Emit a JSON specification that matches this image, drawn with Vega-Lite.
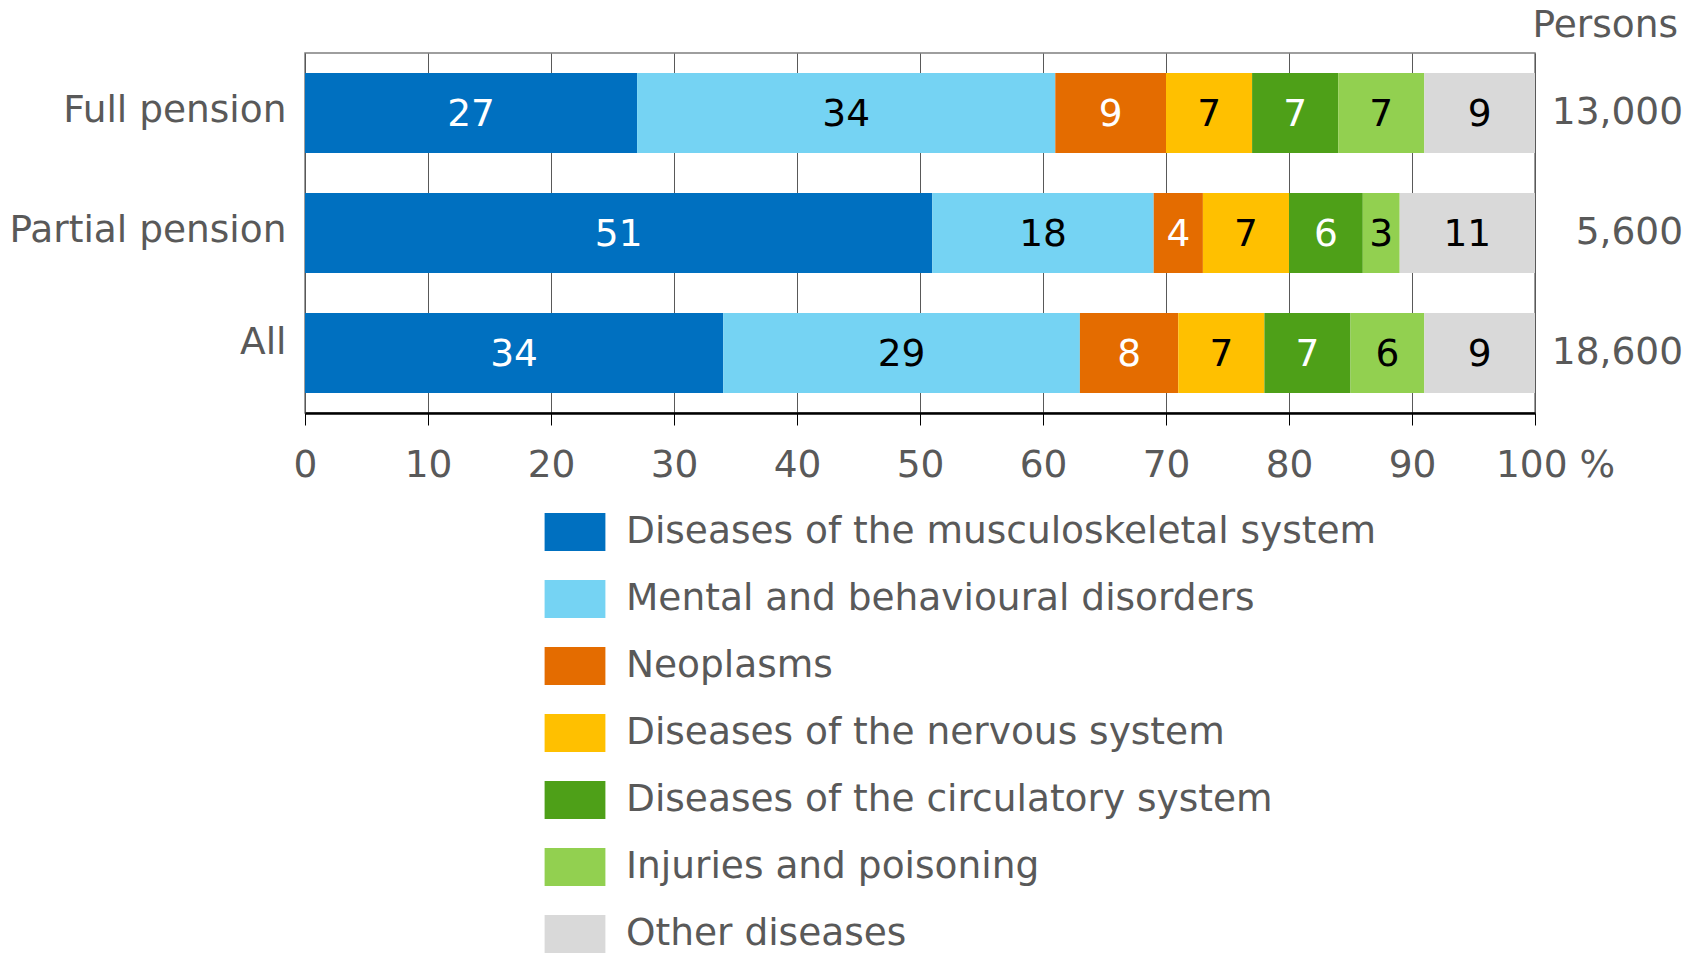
{
  "$schema": "https://vega.github.io/schema/vega-lite/v6.json",
  "width": 1230,
  "height": 360,
  "autosize": {"type": "none"},
  "padding": {"left": 305, "top": 53, "right": 163, "bottom": 544},
  "background": "white",
  "title": {
    "text": "Persons",
    "anchor": "end",
    "frame": "group",
    "dx": 143,
    "offset": -21,
    "baseline": "alphabetic",
    "fontSize": 37.5,
    "fontWeight": "normal",
    "font": "DejaVu Sans",
    "color": "#595959"
  },
  "config": {
    "font": "DejaVu Sans",
    "view": {"stroke": "#7F7F7F", "strokeWidth": 1.5}
  },
  "datasets": {
    "shares": [
      {"group": "Full pension", "cause": "Diseases of the musculoskeletal system", "k": 1, "v": 27},
      {"group": "Full pension", "cause": "Mental and behavioural disorders", "k": 2, "v": 34},
      {"group": "Full pension", "cause": "Neoplasms", "k": 3, "v": 9},
      {"group": "Full pension", "cause": "Diseases of the nervous system", "k": 4, "v": 7},
      {"group": "Full pension", "cause": "Diseases of the circulatory system", "k": 5, "v": 7},
      {"group": "Full pension", "cause": "Injuries and poisoning", "k": 6, "v": 7},
      {"group": "Full pension", "cause": "Other diseases", "k": 7, "v": 9},
      {"group": "Partial pension", "cause": "Diseases of the musculoskeletal system", "k": 1, "v": 51},
      {"group": "Partial pension", "cause": "Mental and behavioural disorders", "k": 2, "v": 18},
      {"group": "Partial pension", "cause": "Neoplasms", "k": 3, "v": 4},
      {"group": "Partial pension", "cause": "Diseases of the nervous system", "k": 4, "v": 7},
      {"group": "Partial pension", "cause": "Diseases of the circulatory system", "k": 5, "v": 6},
      {"group": "Partial pension", "cause": "Injuries and poisoning", "k": 6, "v": 3},
      {"group": "Partial pension", "cause": "Other diseases", "k": 7, "v": 11},
      {"group": "All", "cause": "Diseases of the musculoskeletal system", "k": 1, "v": 34},
      {"group": "All", "cause": "Mental and behavioural disorders", "k": 2, "v": 29},
      {"group": "All", "cause": "Neoplasms", "k": 3, "v": 8},
      {"group": "All", "cause": "Diseases of the nervous system", "k": 4, "v": 7},
      {"group": "All", "cause": "Diseases of the circulatory system", "k": 5, "v": 7},
      {"group": "All", "cause": "Injuries and poisoning", "k": 6, "v": 6},
      {"group": "All", "cause": "Other diseases", "k": 7, "v": 9}
    ],
    "persons": [
      {"group": "Full pension", "persons": "13,000"},
      {"group": "Partial pension", "persons": "5,600"},
      {"group": "All", "persons": "18,600"}
    ]
  },
  "layer": [
    {
      "data": {"name": "shares"},
      "mark": {"type": "bar"},
      "encoding": {
        "y": {
          "field": "group",
          "type": "nominal",
          "sort": ["Full pension", "Partial pension", "All"],
          "scale": {"paddingInner": 0.3333, "paddingOuter": 0.1667},
          "axis": {
            "title": null,
            "ticks": false,
            "domain": false,
            "grid": false,
            "labelPadding": 19,
            "labelFontSize": 37.5,
            "labelColor": "#595959",
            "labelFont": "DejaVu Sans",
            "labelLimit": 400,
            "labelOffset": {"condition": {"test": "datum.value == 'All'", "value": -10}, "value": -2}
          }
        },
        "x": {
          "field": "v",
          "type": "quantitative",
          "stack": "zero",
          "scale": {"domain": [0, 100], "nice": false},
          "axis": {
            "title": null,
            "values": [0, 10, 20, 30, 40, 50, 60, 70, 80, 90, 100],
            "labelExpr": "datum.value == 100 ? '100 %' : datum.label",
            "labelOffset": {"condition": {"test": "datum.value == 100", "value": 20}, "value": 0},
            "grid": true,
            "gridColor": "#595959",
            "gridWidth": 1,
            "domain": true,
            "domainColor": "#000000",
            "domainWidth": 2.5,
            "ticks": true,
            "tickColor": "#000000",
            "tickSize": 12,
            "tickWidth": 1,
            "labelPadding": 21,
            "labelFontSize": 37.5,
            "labelColor": "#595959",
            "labelFont": "DejaVu Sans",
            "labelFlush": false,
            "labelOverlap": false
          }
        },
        "color": {
          "field": "cause",
          "type": "nominal",
          "scale": {
            "domain": [
              "Diseases of the musculoskeletal system",
              "Mental and behavioural disorders",
              "Neoplasms",
              "Diseases of the nervous system",
              "Diseases of the circulatory system",
              "Injuries and poisoning",
              "Other diseases"
            ],
            "range": ["#0070C0", "#75D3F3", "#E46C00", "#FFC000", "#4EA018", "#92D050", "#D9D9D9"]
          },
          "legend": {
            "title": null,
            "orient": "none",
            "legendX": 251,
            "legendY": 460,
            "direction": "vertical",
            "padding": 0,
            "symbolType": "M-1.6,-1H1.6V1H-1.6Z",
            "symbolSize": 1444,
            "symbolStrokeWidth": 0,
            "symbolOpacity": 1,
            "labelFontSize": 37.5,
            "labelColor": "#595959",
            "labelFont": "DejaVu Sans",
            "labelOffset": 32,
            "labelLimit": 1000,
            "rowPadding": 29
          }
        },
        "order": {"field": "k", "type": "quantitative"}
      }
    },
    {
      "data": {"name": "shares"},
      "mark": {"type": "text", "fontSize": 37.5, "font": "DejaVu Sans", "baseline": "middle", "align": "center", "dy": 2},
      "encoding": {
        "y": {"field": "group", "type": "nominal", "sort": ["Full pension", "Partial pension", "All"]},
        "x": {"field": "v", "type": "quantitative", "stack": "zero", "bandPosition": 0.5},
        "order": {"field": "k", "type": "quantitative"},
        "text": {"field": "v", "type": "quantitative"},
        "color": {
          "condition": {"test": "datum.k == 1 || datum.k == 3 || datum.k == 5", "value": "#FFFFFF"},
          "value": "#000000"
        }
      }
    },
    {
      "data": {"name": "persons"},
      "mark": {"type": "text", "fontSize": 37.5, "font": "DejaVu Sans", "baseline": "middle", "align": "right", "dx": 148, "color": "#595959"},
      "encoding": {
        "y": {"field": "group", "type": "nominal", "sort": ["Full pension", "Partial pension", "All"]},
        "x": {"datum": 100, "type": "quantitative"},
        "text": {"field": "persons", "type": "nominal"}
      }
    }
  ]
}
